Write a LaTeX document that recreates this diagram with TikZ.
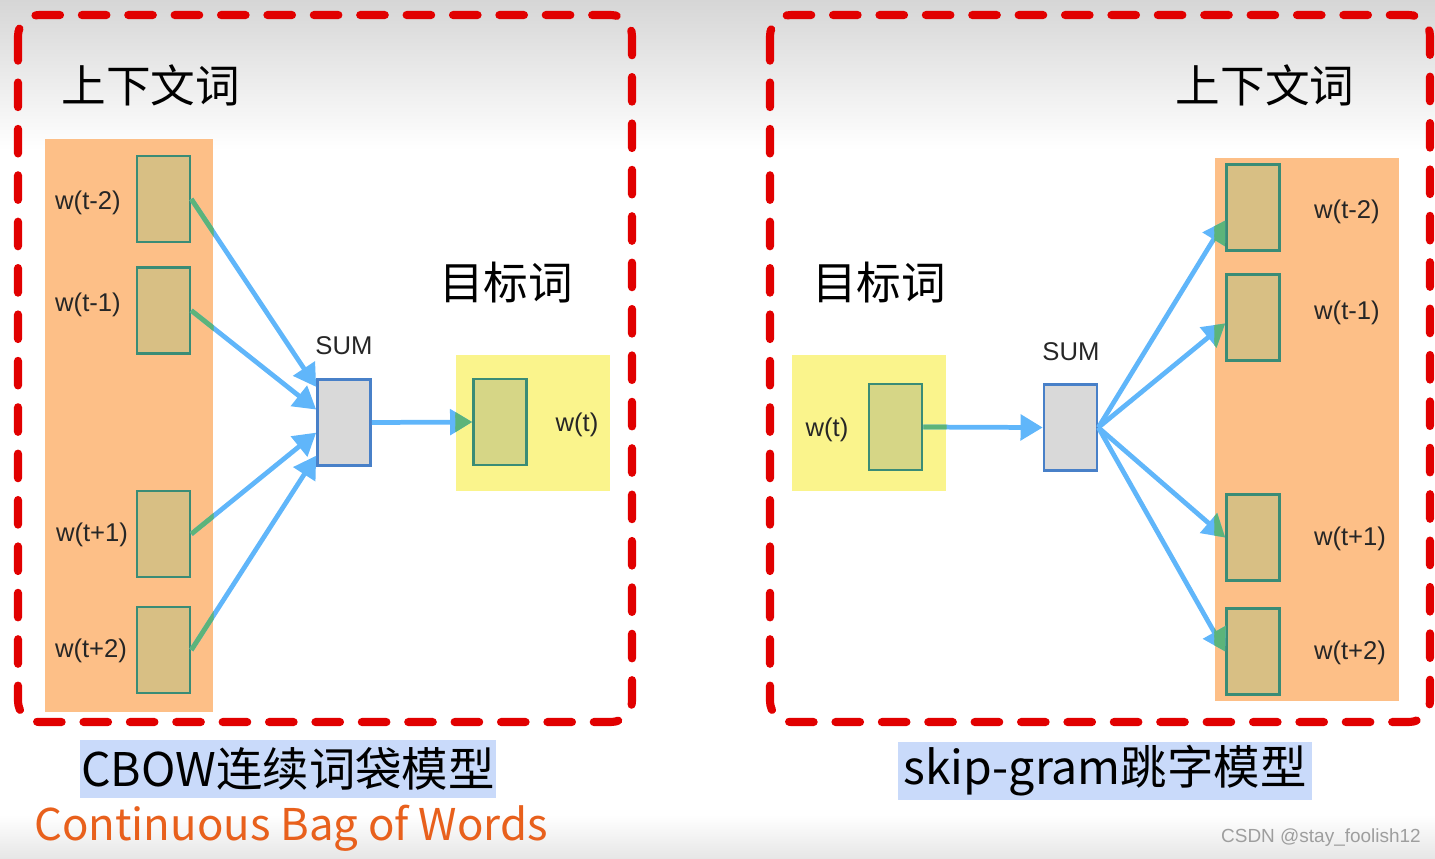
\documentclass[tikz,border=0pt]{standalone}
\usepackage{fontspec}
\setmainfont{Liberation Sans}
\newfontfamily\cjk{Noto Sans CJK SC}
\usepackage{tikz}
\usetikzlibrary{arrows.meta}
\definecolor{frameRed}{RGB}{225,0,0}
\definecolor{panelOrange}{RGB}{253,191,135}
\definecolor{panelYellow}{RGB}{250,244,140}
\definecolor{boxTan}{RGB}{216,191,132}
\definecolor{boxOlive}{RGB}{214,214,134}
\definecolor{boxEdge}{RGB}{58,140,118}
\definecolor{sumGray}{RGB}{217,217,217}
\definecolor{sumEdge}{RGB}{72,128,200}
\definecolor{linkBlue}{RGB}{96,182,250}
\definecolor{linkGreen}{RGB}{92,180,122}
\definecolor{hlBlue}{RGB}{201,218,250}
\definecolor{capOrange}{RGB}{232,96,28}
\definecolor{bgGray}{RGB}{214,214,214}
\tikzset{
    frame/.style={
        draw=frameRed,
        line width=2.3pt,
        line cap=round,
        dash pattern=on 7pt off 6.2pt,
        rounded corners=6pt
    },
    panel/.style={
        inner sep=0pt
    },
    wordbox/.style={
        draw=boxEdge,
        fill=boxTan,
        line width=0.75pt,
        minimum width=5.3mm,
        minimum height=8.6mm,
        inner sep=0pt
    },
    sumbox/.style={
        wordbox,
        draw=sumEdge,
        fill=sumGray
    },
    link/.style={
        draw=linkBlue,
        line width=1.35pt,
        -{Triangle[length=6.3pt, width=7.2pt]}
    },
    lbl/.style={
        font=\fontsize{7.3}{9}\selectfont,
        text=black!85
    },
    title/.style={
        font=\cjk\fontsize{12.7}{15}\selectfont
    },
    caption/.style={
        font=\cjk\fontsize{13.2}{16}\selectfont,
        fill=hlBlue,
        inner sep=0pt,
        minimum height=5.8mm
    }
}

\begin{document}
\begin{tikzpicture}[x=0.1mm, y=-0.1mm]
    \useasboundingbox (0,0) rectangle (1435,858);
    % Background
    \shade[top color=bgGray, bottom color=white] (0,0) rectangle (1435,150);
    \shade[top color=white, bottom color=bgGray!60] (0,815) rectangle (1435,858);

    % Frames
    \draw[frame] (18,15) rectangle (632,722);
    \draw[frame] (770,15) rectangle (1430,722);

    % CBOW - context side
    \node[panel, fill=panelOrange, minimum width=16.8mm, minimum height=57.3mm] (ctxL) at (129,425.5) {};
    \node[wordbox] (cL1) at (163.5,199) {};
    \node[wordbox] (cL2) at (163.5,310.5) {};
    \node[wordbox] (cL3) at (163.5,534) {};
    \node[wordbox] (cL4) at (163.5,650) {};
    \node[lbl] (wL1) at (88,203) {w(t-2)};
    \node[lbl] (wL2) at (88,305) {w(t-1)};
    \node[lbl] (wL3) at (92,535) {w(t+1)};
    \node[lbl] (wL4) at (91,651) {w(t+2)};
    \node[title] (ctxTitleL) at (151,85) {上下文词};

    % CBOW - target side
    \node[panel, fill=panelYellow, minimum width=15.4mm, minimum height=13.6mm] (tgtL) at (533,423) {};
    \node[wordbox, fill=boxOlive] (oL) at (500,422) {};
    \node[lbl] (wtL) at (577,425) {w(t)};
    \node[title] (tgtTitleL) at (506,283) {目标词};
    \node[sumbox] (sumL) at (344,422.5) {};
    \node[lbl] (sumTxtL) at (344,346) {SUM};

    % CBOW - edges
    \foreach \a/\b in {cL1.east/sumL.128, cL2.east/sumL.155, cL3.east/sumL.200, cL4.east/sumL.230, sumL.east/oL.west}
        \draw[link] (\a) -- (\b);
    \begin{scope}
        \clip (ctxL.north west) rectangle (ctxL.south east);
        \foreach \a/\b in {cL1.east/sumL.128, cL2.east/sumL.155, cL3.east/sumL.200, cL4.east/sumL.230}
            \draw[link, draw=linkGreen] (\a) -- (\b);
    \end{scope}
    \begin{scope}
        \clip (tgtL.north west) rectangle (tgtL.south east);
        \draw[link, draw=linkGreen] (sumL.east) -- (oL.west);
    \end{scope}

    % Skip-gram - target side
    \node[panel, fill=panelYellow, minimum width=15.4mm, minimum height=13.6mm] (tgtR) at (869,423) {};
    \node[wordbox, fill=boxOlive] (inR) at (895.5,427) {};
    \node[lbl] (wtR) at (827,430) {w(t)};
    \node[title] (tgtTitleR) at (879,283) {目标词};
    \node[sumbox] (sumR) at (1070.5,427.5) {};
    \node[lbl] (sumTxtR) at (1071,352) {SUM};

    % Skip-gram - context side
    \node[panel, fill=panelOrange, minimum width=18.4mm, minimum height=54.3mm] (ctxR) at (1307,429.5) {};
    \node[wordbox] (cR1) at (1253,207.5) {};
    \node[wordbox] (cR2) at (1253,317.5) {};
    \node[wordbox] (cR3) at (1253,537.5) {};
    \node[wordbox] (cR4) at (1253,651.5) {};
    \node[lbl] (wR1) at (1347,212) {w(t-2)};
    \node[lbl] (wR2) at (1347,313) {w(t-1)};
    \node[lbl] (wR3) at (1350,539) {w(t+1)};
    \node[lbl] (wR4) at (1350,653) {w(t+2)};
    \node[title] (ctxTitleR) at (1265,85) {上下文词};

    % Skip-gram - edges
    \foreach \a/\b in {inR.east/sumR.west, sumR.east/cR1.205, sumR.east/cR2.192, sumR.east/cR3.west, sumR.east/cR4.west}
        \draw[link] (\a) -- (\b);
    \begin{scope}
        \clip (tgtR.north west) rectangle (tgtR.south east);
        \draw[link, draw=linkGreen] (inR.east) -- (sumR.west);
    \end{scope}
    \begin{scope}
        \clip (ctxR.north west) rectangle (ctxR.south east);
        \foreach \b in {cR1.205, cR2.192, cR3.west, cR4.west}
            \draw[link, draw=linkGreen] (sumR.east) -- (\b);
    \end{scope}

    % Captions
    \node[caption, minimum width=41.6mm] (capL) at (288,769) {CBOW连续词袋模型};
    \node[caption, minimum width=41.4mm] (capR) at (1105,771) {skip-gram跳字模型};
    \node[font=\cjk\fontsize{12.45}{15}\selectfont, text=capOrange] (capEn) at (291,828) {Continuous Bag of Words};
    \node[font=\fontsize{5.4}{7}\selectfont, text=black!38] (mark) at (1321,838) {CSDN @stay\_foolish12};
\end{tikzpicture}
\end{document}
